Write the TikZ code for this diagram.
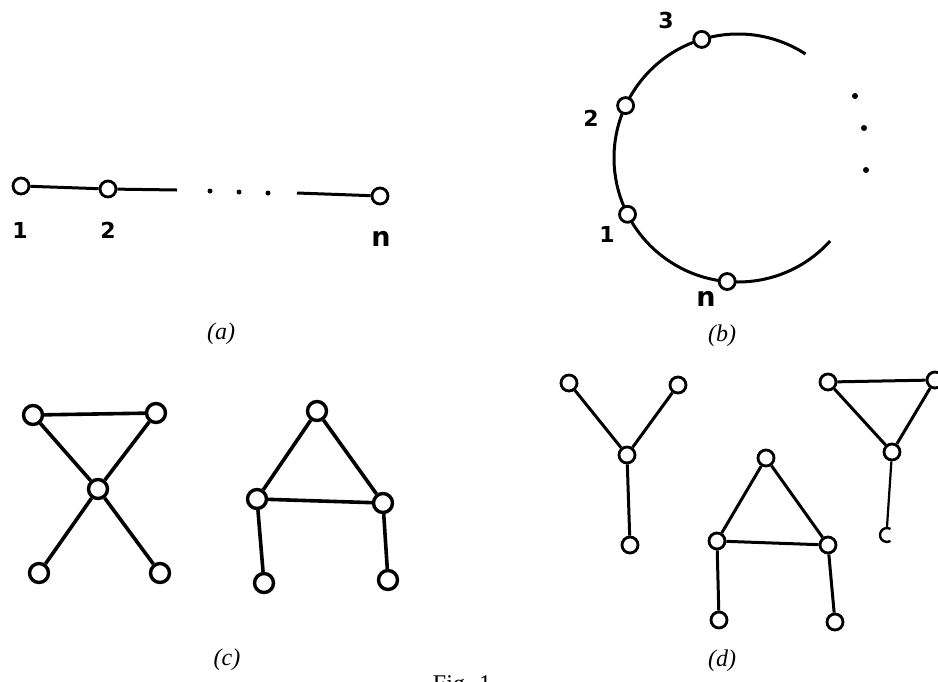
\documentclass[tikz,border=0pt]{standalone}
\usepackage{fontspec}
\setmainfont{Liberation Serif}
\newfontfamily\handfont{DejaVu Sans}
\begin{document}
\begin{tikzpicture}[x=1pt,y=-1pt,
  v/.style={circle,draw,line width=2.8pt,minimum size=16pt,inner sep=0pt,fill=white},
  vb/.style={v,line width=3.4pt,minimum size=19pt},
  edge/.style={line width=3pt},
  edgeb/.style={line width=3.6pt},
  dotm/.style={circle,fill,inner sep=0pt,minimum size=5pt},
  hand/.style={font=\handfont\bfseries\fontsize{22}{26}\selectfont,inner sep=0pt},
  handn/.style={font=\handfont\bfseries\fontsize{27}{30}\selectfont,inner sep=0pt},
  caplabel/.style={font=\itshape\fontsize{24}{28}\selectfont,inner sep=0pt},
]
\useasboundingbox (0,0) rectangle (938,681);
% ---------- (a) ----------
\node[v] (a1) at (21,186) {};
\node[v] (a2) at (108,189) {};
\coordinate (a2e) at (177,190);
\coordinate (ans) at (297,193);
\node[v] (an) at (380,196) {};
\draw[edge] (a1) -- (a2);
\draw[edge] (a2) -- (a2e);
\draw[edge] (ans) -- (an);
\node[dotm] (ad1) at (210,191) {};
\node[dotm] (ad2) at (239,192) {};
\node[dotm] (ad3) at (268,193) {};
\node[hand] (la1) at (20,230) {1};
\node[hand] (la2) at (108,230) {2};
\node[handn] (lan) at (381,239) {n};
\node[caplabel] (capa) at (221,334) {(a)};
% ---------- (b) ----------
\coordinate (bc) at (738,158);
\draw[edge] (bc) ++(-57:124) arc[start angle=-57,end angle=-318,radius=124];
\node[v] (b3) at ([shift={(-107:124)}]bc) {};
\node[v] (b2) at ([shift={(-155:124)}]bc) {};
\node[v] (b1) at ([shift={(-207:124)}]bc) {};
\node[v] (bn) at ([shift={(-265:124)}]bc) {};
\node[hand] (lb3) at (666,20) {3};
\node[hand] (lb2) at (591,118) {2};
\node[hand] (lb1) at (607,234) {1};
\node[handn] (lbn) at (706,299) {n};
\node[dotm,minimum size=6pt] (bd1) at (855,96) {};
\node[dotm,minimum size=6pt] (bd2) at (864,128) {};
\node[dotm,minimum size=6pt] (bd3) at (866,170) {};
\node[caplabel] (capb) at (722,336) {(b)};
% ---------- (c) left ----------
\node[vb] (c1) at (33,415) {};
\node[vb] (c2) at (156,413) {};
\node[vb] (c3) at (98,489) {};
\node[vb] (c4) at (39,573) {};
\node[vb] (c5) at (160,573) {};
\draw[edgeb] (c1) -- (c2);
\draw[edgeb] (c1) -- (c3);
\draw[edgeb] (c2) -- (c3);
\draw[edgeb] (c3) -- (c4);
\draw[edgeb] (c3) -- (c5);
% ---------- (c) right ----------
\node[vb] (h1) at (317,411) {};
\node[vb] (h2) at (257,499) {};
\node[vb] (h3) at (383,503) {};
\node[vb] (h4) at (264,583) {};
\node[vb] (h5) at (388,580) {};
\draw[edgeb] (h1) -- (h2);
\draw[edgeb] (h1) -- (h3);
\draw[edgeb] (h2) -- (h3);
\draw[edgeb] (h2) -- (h4);
\draw[edgeb] (h3) -- (h5);
\node[caplabel] (capc) at (227,660) {(c)};
% ---------- (d) Y ----------
\node[v] (y1) at (569,383) {};
\node[v] (y2) at (678,385) {};
\node[v] (y3) at (627,455) {};
\node[v] (y4) at (630,545) {};
\draw[edge] (y1) -- (y3);
\draw[edge] (y2) -- (y3);
\draw[edge] (y3) -- (y4);
% ---------- (d) house ----------
\node[v] (d1) at (766,458) {};
\node[v] (d2) at (717,541) {};
\node[v] (d3) at (828,545) {};
\node[v] (d4) at (719,620) {};
\node[v] (d5) at (835,622) {};
\draw[edge] (d1) -- (d2);
\draw[edge] (d1) -- (d3);
\draw[edge] (d2) -- (d3);
\draw[edge] (d2) -- (d4);
\draw[edge] (d3) -- (d5);
% ---------- (d) triangle with tail ----------
\node[v] (t1) at (828,382) {};
\node[v] (t2) at (935,380) {};
\node[v] (t3) at (892,452) {};
\node[inner sep=0pt,minimum size=16pt] (t4) at (887,535) {};
\draw[line width=2.4pt] ([shift={(-60:7)}]t4.center) arc[start angle=-60,end angle=-300,radius=7];
\draw[edge] (t1) -- (t2);
\draw[edge] (t1) -- (t3);
\draw[edge] (t2) -- (t3);
\draw[line width=2.2pt] (t3) -- (t4.north);
\node[caplabel] (capd) at (722,661) {(d)};
% ---------- caption ----------
\node[font=\fontsize{24}{28}\selectfont,inner sep=0pt,anchor=north] (fig) at (462,675) {Fig. 1};
\end{tikzpicture}
\end{document}
